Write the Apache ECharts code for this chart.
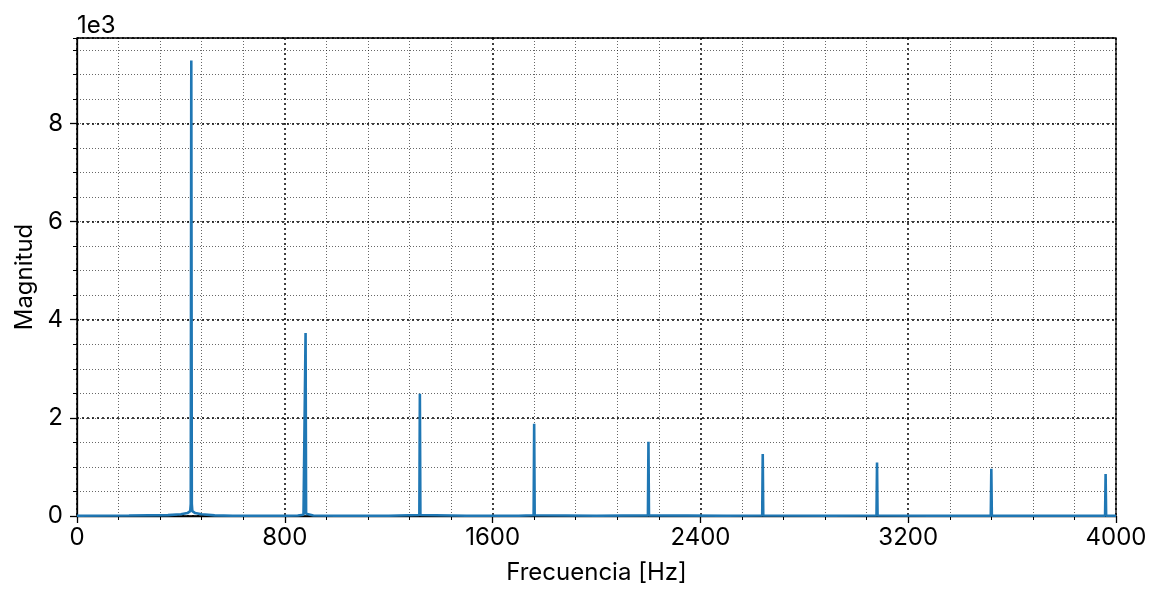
<!DOCTYPE html>
<html>
<head>
<meta charset="utf-8">
<script src="https://cdn.jsdelivr.net/npm/echarts@6/dist/echarts.min.js"></script>
<style>
  html, body { margin: 0; padding: 0; background: #fff; }
  #chart { width: 1162px; height: 600px; }
</style>
</head>
<body>
<div id="chart"></div>
<script>
// espectro: frecuencia [Hz] y magnitud
var freqs = [0, 200, 350, 400, 425, 436, 438, 440, 442, 444, 455, 480, 530, 600,
  800, 850, 872, 878, 880, 882, 888, 910, 1000,
  1200, 1318, 1320, 1322, 1500,
  1700, 1758, 1760, 1762, 2000,
  2198, 2200, 2202, 2500,
  2638, 2640, 2642, 2900,
  3078, 3080, 3082, 3300,
  3518, 3520, 3522, 3800,
  3958, 3960, 3962, 4000];
var mags = [5, 10, 18, 35, 60, 100, 250, 9280, 250, 100, 60, 35, 12, 6,
  5, 10, 25, 45, 3727, 45, 25, 10, 5,
  5, 20, 2491, 20, 5,
  5, 15, 1880, 15, 5,
  12, 1513, 12, 5,
  10, 1263, 10, 5,
  10, 1092, 10, 5,
  8, 960, 8, 5,
  8, 858, 8, 5];

var xTicks = [0, 800, 1600, 2400, 3200, 4000];
var yMax = 9740;

var spectrum = freqs.map(function (f, i) { return [f, mags[i]]; });

var chart = echarts.init(document.getElementById('chart'));
var font = 'Inter';
var fs = 24;

chart.setOption({
  animation: false,
  textStyle: { fontFamily: font },
  grid: {
    left: 77, right: 46, top: 38, bottom: 84,
    show: true,
    borderColor: '#000',
    borderWidth: 1.3,
    backgroundColor: 'transparent'
  },
  xAxis: {
    type: 'value',
    min: xTicks[0],
    max: xTicks[xTicks.length - 1],
    interval: 800,
    name: 'Frecuencia [Hz]',
    nameLocation: 'middle',
    nameGap: 45,
    nameTextStyle: { fontSize: fs, color: '#000', fontFamily: font },
    axisLine: { show: true, lineStyle: { color: '#000', width: 1.3 } },
    axisTick: { show: true, inside: false, length: 7, lineStyle: { color: '#000', width: 1.3 } },
    axisLabel: {
      fontSize: fs, color: '#000', margin: 10, fontFamily: font,
      formatter: function (v) { return String(v); }
    },
    splitLine: { show: true, lineStyle: { color: '#000', width: 1.5, type: [2, 3] } },
    minorTick: { show: true, splitNumber: 5, length: 4, lineStyle: { color: '#000', width: 1 } },
    minorSplitLine: { show: true, lineStyle: { color: '#000', width: 0.6, type: [1, 2] } }
  },
  yAxis: [
    {
      type: 'value',
      min: 0,
      max: yMax,
      interval: 2000,
      name: '1e3',
      nameLocation: 'end',
      nameGap: 0,
      nameTextStyle: { fontSize: fs, color: '#000', align: 'left', fontFamily: font },
      axisLine: { show: true, lineStyle: { color: '#000', width: 1.3 } },
      axisTick: { show: true, inside: false, length: 7, lineStyle: { color: '#000', width: 1.3 } },
      axisLabel: {
        fontSize: fs, color: '#000', margin: 14, fontFamily: font,
        showMaxLabel: false,
        formatter: function (v) { return String(v / 1000); }
      },
      splitLine: { show: true, lineStyle: { color: '#000', width: 1.5, type: [2, 3] } }
    },
    {
      // eje auxiliar solo para la rejilla menor y el nombre
      type: 'value',
      position: 'left',
      min: 0,
      max: yMax,
      interval: 500,
      name: 'Magnitud',
      nameLocation: 'middle',
      nameGap: 40,
      nameRotate: 90,
      nameTextStyle: { fontSize: fs, color: '#000', fontFamily: font },
      axisLine: { show: false },
      axisTick: { show: true, inside: false, length: 4, lineStyle: { color: '#000', width: 1 } },
      axisLabel: { show: false },
      splitLine: { show: true, lineStyle: { color: '#000', width: 0.6, type: [1, 2] } }
    }
  ],
  series: [
    {
      type: 'line',
      yAxisIndex: 0,
      data: spectrum,
      showSymbol: false,
      symbol: 'none',
      lineStyle: { color: '#1f77b4', width: 2.6 },
      z: 5
    }
  ]
});
</script>
</body>
</html>
